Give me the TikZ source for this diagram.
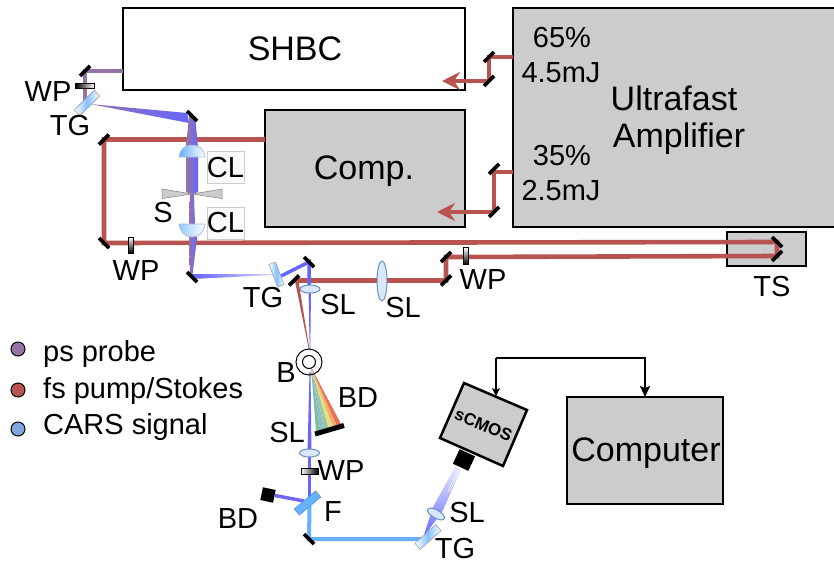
\documentclass[tikz,border=0pt]{standalone}
\usepackage{fontspec}
\setmainfont{Liberation Sans}
\usetikzlibrary{calc,arrows.meta,shapes.geometric}
\definecolor{redb}{HTML}{B85450}
\definecolor{purb}{HTML}{9673A6}
\definecolor{blub}{HTML}{6666FF}
\definecolor{skyb}{HTML}{66B2FF}
\definecolor{lensf}{HTML}{DAE8FC}
\definecolor{lensd}{HTML}{6C8EBF}
\definecolor{boxg}{HTML}{CCCCCC}
\definecolor{legb}{HTML}{7EA6E0}
\tikzset{
  whitebox/.style={draw=black,fill=white,line width=2.5pt,inner sep=0pt,outer sep=0pt},
  graybox/.style={draw=black,fill=boxg,line width=2.5pt,inner sep=0pt,outer sep=0pt},
  redbeam/.style={draw=redb,line width=4.6pt,line join=miter},
  purbeam/.style={draw=purb,line width=4.5pt},
  blubeam/.style={draw=blub,line width=3.5pt},
  skybeam/.style={draw=skyb,line width=4pt},
  mirror/.style={draw=black,line width=3.8pt},
  lbl/.style={font=\fontsize{29}{30}\selectfont,inner sep=0pt,text=black},
  big/.style={font=\fontsize{34}{36}\selectfont,inner sep=0pt,text=black},
  clbox/.style={draw=black!20,fill=black!2,line width=.7pt,inner sep=0pt,outer sep=0pt,minimum width=37pt,minimum height=32pt,font=\fontsize{29}{30}\selectfont},
  grating/.style={draw=lensf!70!black,line width=.6pt,left color=white,right color=white,middle color=skyb!80,inner sep=0pt,minimum width=28pt,minimum height=8pt},
  lens/.style={draw=lensd,fill=lensf,line width=1pt,ellipse,inner sep=0pt},
  plate/.style={draw=black,line width=.7pt,inner sep=0pt},
  legdot/.style={circle,draw=black,line width=1pt,minimum size=14pt,inner sep=0pt},
  legtxt/.style={font=\fontsize{29}{30}\selectfont,inner sep=0pt,anchor=base west},
  redhead/.style={-{Stealth[length=18pt,width=18pt,inset=6pt]}},
}
\newcommand\mirslash[1]{\draw[mirror] ($(#1)+(-5,5)$) -- ($(#1)+(5,-5)$);}
\newcommand\mirback[1]{\draw[mirror] ($(#1)+(-5,-5)$) -- ($(#1)+(5,5)$);}
\begin{document}
\begin{tikzpicture}[x=1pt,y=-1pt]
\useasboundingbox (0,0) rectangle (834,562);
\clip (0,0) rectangle (834,562);
\fill[white] (0,0) rectangle (834,562);
% boxes
\node[whitebox,minimum width=342pt,minimum height=82pt] (shbc) at (294,49) {};
\node[graybox,minimum width=200pt,minimum height=117pt] (comp) at (365,168.5) {};
\node[graybox,minimum width=330pt,minimum height=219pt] (amp) at (678,117.5) {};
\node[graybox,minimum width=79pt,minimum height=34pt] (ts) at (766.5,249) {};
\node[graybox,minimum width=156pt,minimum height=107pt] (pc) at (645,450.5) {};
% box texts
\node[big] (tshbc) at (295,49) {SHBC};
\node[big] (tcomp) at (364,171) {Comp.};
\node[big] (tult) at (674,98) {Ultrafast};
\node[big] (tampl) at (679,139) {Amplifier};
\node[big] (tpc) at (646,453) {Computer};
\node[lbl] (t65) at (562,38) {65\%};
\node[lbl] (t45) at (561,73) {4.5mJ};
\node[lbl] (t35) at (562,156) {35\%};
\node[lbl] (t25) at (561,191) {2.5mJ};
% coordinates
\coordinate (m1) at (85,71);
\coordinate (m2) at (192,116);
\coordinate (m3) at (104,139.5);
\coordinate (m4) at (104,243);
\coordinate (m5) at (192,277);
\coordinate (m6) at (309,262);
\coordinate (m7) at (294,280.5);
\coordinate (m8) at (446,257);
\coordinate (m9) at (446,280.5);
\coordinate (ts1) at (777,242);
\coordinate (ts2) at (777,256);
\coordinate (m10) at (489,57);
\coordinate (m11) at (489,81);
\coordinate (m12) at (494,169);
\coordinate (m13) at (494,212);
\coordinate (m14) at (309,539);
\coordinate (tipa) at (442,81);
\coordinate (tipb) at (437,212);
\coordinate (ampa) at (513,57);
\coordinate (ampb) at (513,172);
\coordinate (compa) at (265,139.5);
\coordinate (shbca) at (123,71);
% red beams
\draw[redbeam] (ampa) -- (m10) -- (m11);
\draw[draw=redb,line width=4.6pt,redhead] (m11) -- (tipa);
\draw[redbeam] (ampb) -- (494,172) -- (m13);
\draw[draw=redb,line width=4.6pt,redhead] (m13) -- (tipb);
\draw[redbeam] (compa) -- (m3) -- (m4) -- (ts1) -- (ts2) -- (m8) -- (m9) -- (m7);
\fill[redb] (295,281) -- (298.5,281) -- (309.5,350) -- (309,350) -- cycle;
% probe line
\draw[purbeam] (shbca) -- (m1) -- (85,104);
\shade[left color=purb!90!blub,right color=blub] (90,104) -- (187,113) -- (189,123) -- cycle;
\shade[left color=purb,right color=blub] (189,116) -- (195,116) -- (198,147) -- (198,192) -- (192,194) -- (186,192) -- (186,147) -- cycle;
\shade[left color=purb,right color=blub] (190,194) -- (194,194) -- (195,225) -- (197,238) -- (192.5,275) -- (190,275) -- (189,238) -- (189,225) -- cycle;
\shade[left color=blub,right color=blub!30!white] (192,274) -- (192,279) -- (272,275) -- (272,274) -- cycle;
\draw[blubeam] (279,277) -- (m6) -- (309,288);
\fill[blub] (308.5,288) -- (311,288) -- (310.3,350) -- (309.7,350) -- cycle;
\fill[blub] (309.5,372) -- (310.5,372) -- (311.5,453) -- (307.5,453) -- cycle;
\draw[blubeam] (309.5,453) -- (309.5,506);
\draw[draw=blub!80!purb,line width=3.5pt] (304,501) -- (275,495.5);
\draw[skybeam] (309.5,506) -- (m14) -- (424,539);
% camera beam
\shade[top color=blub!15!white,bottom color=blub] (423,538) -- (433,507) -- (455,467) -- (461,470) -- (443,510) -- cycle;
\foreach \d in {1.5,3.5} {\draw[white,line width=.4pt] ($(456,470)+(\d,1)$) -- ($(446,490)+(\d,2)$);}
% rainbow
\foreach \a/\b/\c in {0/.17/7FBFA8,.17/.33/8CBFC8,.33/.5/9CC8A0,.5/.67/E4DC88,.67/.83/F0B068,.83/1/E87058} {
  \definecolor{rb}{HTML}{\c}
  \fill[rb] (311,367) -- ($(316,431)!\a!(341,424)$) -- ($(316,431)!\b!(341,424)$) -- cycle;
}
% bubble
\node[circle,draw=black,line width=1pt,minimum size=26pt,inner sep=0pt] (bub) at (309,362) {};
\node[circle,draw=black,line width=1pt,minimum size=13pt,inner sep=0pt] (bubin) at (309,362) {};
% mirrors
\mirslash{m1}\mirback{m2}\mirslash{m3}\mirback{m4}\mirback{m5}\mirback{m6}\mirslash{m7}
\mirslash{m8}\mirslash{m9}\mirback{ts1}\mirslash{ts2}\mirslash{m10}\mirslash{m11}\mirslash{m12}\mirslash{m13}\mirback{m14}
\draw[draw=black,line width=5pt] (315,434) -- (344,425.5);
% gratings
\node[grating,rotate=45] (tg1) at (87,103) {};
\node[grating,rotate=-69,minimum width=24pt,minimum height=7pt] (tg2) at (276.5,274.5) {};
\node[grating,rotate=42] (tg3) at (428,537) {};
\node[draw=skyb!80!black,fill=skyb,line width=.5pt,inner sep=0pt,minimum width=28pt,minimum height=8pt,rotate=40] (filt) at (307.5,503) {};
% waveplates
\node[plate,left color=black,right color=white,minimum width=19pt,minimum height=5pt] (wp1) at (85,86) {};
\node[plate,top color=white,bottom color=black,minimum width=5pt,minimum height=16pt] (wp2) at (130.5,245) {};
\node[plate,top color=white,bottom color=black,minimum width=5pt,minimum height=17pt] (wp3) at (465.5,256) {};
\node[plate,left color=white,right color=black,minimum width=17pt,minimum height=6pt] (wp4) at (309.5,471) {};
% lenses
\shadedraw[draw=lensd!60,line width=.7pt,left color=skyb,right color=white] (179,157) .. controls (180,149) and (185,145) .. (192,145) .. controls (199,145) and (204,149) .. (205,157) -- cycle;
\shadedraw[draw=lensd!60,line width=.7pt,left color=skyb!70,right color=white] (179,224) .. controls (180,232) and (185,237) .. (192,237) .. controls (199,237) and (204,232) .. (205,224) -- cycle;
\node[lens,minimum width=20pt,minimum height=8pt] (sl1) at (310,289) {};
\node[lens,minimum width=10pt,minimum height=40pt] (sl2) at (382,281) {};
\node[lens,minimum width=20pt,minimum height=8pt] (sl3) at (309.5,453) {};
\node[lens,minimum width=19pt,minimum height=8pt,rotate=-30] (sl4) at (436,514) {};
% slit
\fill[boxg,draw=black!50,line width=.5pt] (162,189) -- (162,198.5) -- (192,194) -- (222,198.5) -- (222,189) -- (192,194) -- cycle;
% CL labels
\node[clbox] (cl1) at (225.5,167.5) {CL};
\node[clbox] (cl2) at (225.5,223) {CL};
% beam dump & camera
\node[fill=black,minimum size=13pt,inner sep=0pt,rotate=-12] (bd1) at (268,495) {};
\node[fill=black,minimum width=17pt,minimum height=16pt,inner sep=0pt,rotate=-25] (snout) at (464,460) {};
\draw[draw=black,fill=boxg,line width=2.5pt] (464,383) -- (527,410) -- (503,466) -- (440,438) -- cycle;
\node[font=\bfseries\fontsize{17}{18}\selectfont,rotate=-23,inner sep=0pt] (cam) at (483.5,425) {sCMOS};
\coordinate (camtop) at (496,396);
\coordinate (bend1) at (496,358);
\coordinate (bend2) at (645,358);
\draw[draw=black,line width=2pt,-{Stealth[length=11pt,width=10pt,inset=2pt]}] (bend1) -- (bend2) -- (pc.north -| bend2);
\draw[draw=black,line width=2pt,-{Stealth[length=8pt,width=8pt,inset=2pt]}] (bend1) -- (camtop);
% labels
\node[lbl] (lwp1) at (48,92) {WP};
\node[lbl] (ltg1) at (70,126) {TG};
\node[lbl] (ls) at (163,213) {S};
\node[lbl] (lwp2) at (136,271) {WP};
\node[lbl] (ltg2) at (263,298) {TG};
\node[lbl] (lsl1) at (338,305) {SL};
\node[lbl] (lsl2) at (403,308) {SL};
\node[lbl] (lwp3) at (483,280) {WP};
\node[lbl] (lts) at (772,287) {TS};
\node[lbl] (lb) at (286,373) {B};
\node[lbl] (lbd1) at (358,398) {BD};
\node[lbl] (lsl3) at (287,433) {SL};
\node[lbl] (lwp4) at (341,471) {WP};
\node[lbl] (lf) at (333,512) {F};
\node[lbl] (lbd2) at (238,519) {BD};
\node[lbl] (lsl4) at (467,513) {SL};
\node[lbl] (ltg3) at (455,548.5) {TG};
% legend
\node[legdot,fill=purb] (d1) at (18,349) {};
\node[legdot,fill=redb] (d2) at (18,390) {};
\node[legdot,fill=legb] (d3) at (18,429) {};
\node[legtxt] (e1) at (43,361) {ps probe};
\node[legtxt] (e2) at (43,398) {fs pump/Stokes};
\node[legtxt] (e3) at (43,434) {CARS signal};
\end{tikzpicture}
\end{document}
